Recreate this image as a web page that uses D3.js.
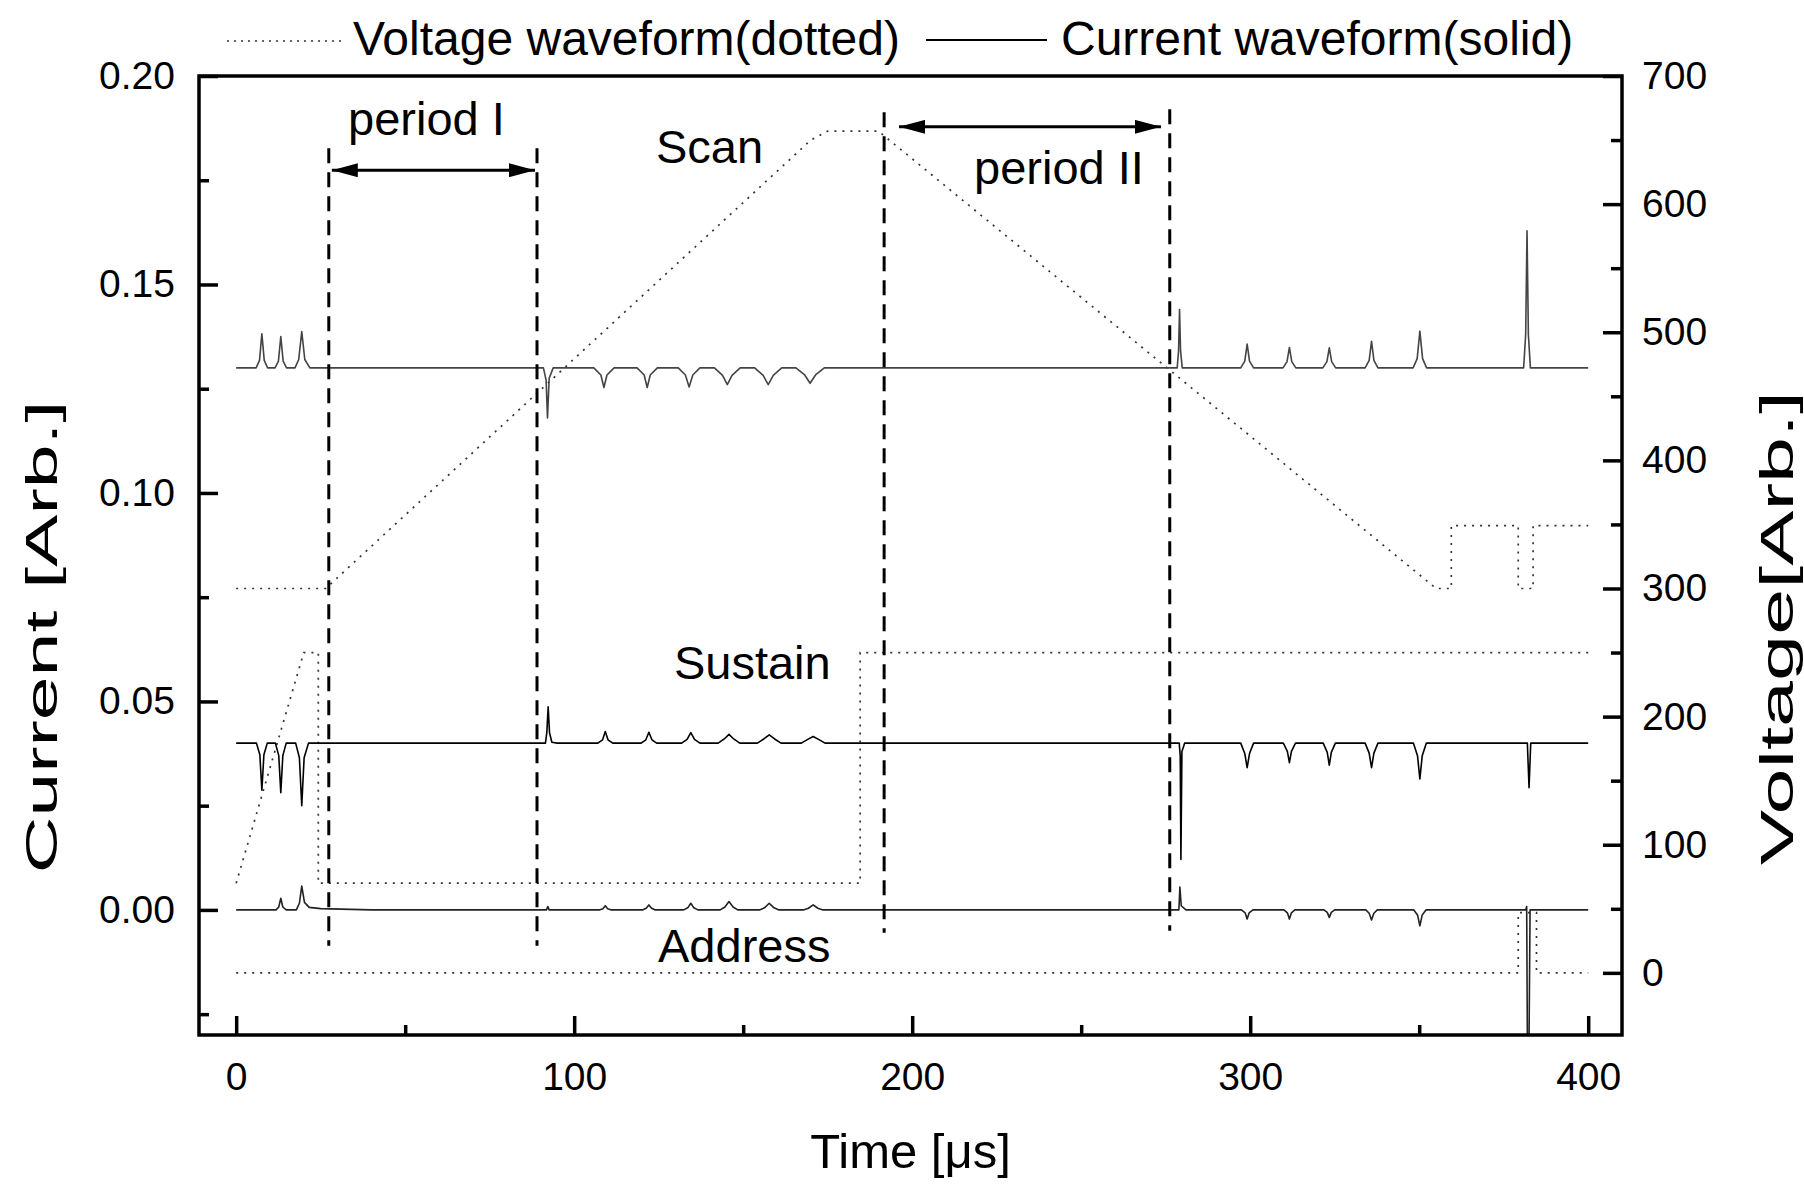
<!DOCTYPE html>
<html>
<head>
<meta charset="utf-8">
<script src="https://cdn.jsdelivr.net/npm/d3@7"></script>
<style>
  body { margin: 0; background: #fff; }
  svg text { font-family: "Liberation Sans", Arial, Helvetica, sans-serif; fill: #000; }
</style>
</head>
<body>
<div id="chart"></div>
<script>
// Current traces [time (us), current (arb.)]
var scanCurrent = [
  [0, 0.1300], [5.9, 0.1300], [6.9, 0.1318], [7.6, 0.1382], [8.3, 0.1318], [9.3, 0.1300],
  [11.5, 0.1300], [12.5, 0.1316], [13.2, 0.1375], [13.9, 0.1316], [14.9, 0.1300],
  [17.4, 0.1300], [18.5, 0.1320], [19.4, 0.1387], [20.3, 0.1320], [21.8, 0.1300],
  [90.9, 0.1300], [91.7, 0.1270], [92.1, 0.1180], [92.6, 0.1275], [93.8, 0.1300],
  [105.8, 0.1300], [107.9, 0.1283], [108.8, 0.1253], [109.7, 0.1283], [111.8, 0.1300],
  [118.6, 0.1300], [120.7, 0.1283], [121.6, 0.1253], [122.5, 0.1283], [124.6, 0.1300],
  [130.8, 0.1300], [132.9, 0.1283], [134.0, 0.1254], [135.1, 0.1283], [137.2, 0.1300],
  [141.5, 0.1300], [143.9, 0.1282], [145.3, 0.1260], [146.7, 0.1282], [149.1, 0.1300],
  [153.4, 0.1300], [155.9, 0.1282], [157.4, 0.1260], [158.9, 0.1282], [161.4, 0.1300],
  [165.6, 0.1300], [168.2, 0.1283], [169.8, 0.1263], [171.4, 0.1283], [174.0, 0.1300],
  [278.4, 0.1300], [278.8, 0.1340], [279.1, 0.1440], [279.4, 0.1340], [279.9, 0.1300],
  [297.2, 0.1300], [298.4, 0.1316], [299.1, 0.1357], [299.8, 0.1316], [301.0, 0.1300],
  [309.7, 0.1300], [310.9, 0.1315], [311.6, 0.1349], [312.3, 0.1315], [313.5, 0.1300],
  [321.5, 0.1300], [322.7, 0.1315], [323.4, 0.1348], [324.1, 0.1315], [325.3, 0.1300],
  [334.0, 0.1300], [335.2, 0.1318], [335.9, 0.1364], [336.6, 0.1318], [337.8, 0.1300],
  [348.2, 0.1300], [349.4, 0.1322], [350.2, 0.1388], [351.0, 0.1322], [352.2, 0.1300],
  [380.9, 0.1300], [381.5, 0.1380], [381.9, 0.1629], [382.3, 0.1380], [382.9, 0.1300],
  [400, 0.1300]
];

var sustainCurrent = [
  [0, 0.0400], [6.0, 0.0400], [7.0, 0.0372], [7.6, 0.0287], [8.2, 0.0372], [9.2, 0.0400],
  [11.6, 0.0400], [12.6, 0.0370], [13.2, 0.0281], [13.8, 0.0370], [14.8, 0.0400],
  [17.6, 0.0400], [18.7, 0.0365], [19.4, 0.0250], [20.1, 0.0365], [21.4, 0.0400],
  [91.5, 0.0400], [91.9, 0.0425], [92.3, 0.0487], [92.7, 0.0425], [93.4, 0.0402], [95.0, 0.0400],
  [107.0, 0.0400], [108.4, 0.0408], [109.2, 0.0428], [110.0, 0.0408], [111.4, 0.0400],
  [119.8, 0.0400], [121.2, 0.0408], [122.1, 0.0426], [123.0, 0.0408], [124.4, 0.0400],
  [131.8, 0.0400], [133.4, 0.0409], [134.5, 0.0425], [135.6, 0.0409], [137.2, 0.0400],
  [142.6, 0.0400], [144.4, 0.0410], [145.8, 0.0421], [147.2, 0.0410], [149.0, 0.0400],
  [154.2, 0.0400], [156.1, 0.0410], [157.7, 0.0420], [159.3, 0.0410], [161.2, 0.0400],
  [167.2, 0.0400], [169.1, 0.0409], [170.7, 0.0416], [172.3, 0.0409], [174.2, 0.0400],
  [279.0, 0.0400], [279.3, 0.0370], [279.5, 0.0121], [279.8, 0.0380], [280.6, 0.0400],
  [297.2, 0.0400], [298.4, 0.0375], [299.1, 0.0341], [299.8, 0.0375], [301.0, 0.0400],
  [309.8, 0.0400], [311.0, 0.0380], [311.6, 0.0353], [312.2, 0.0380], [313.4, 0.0400],
  [321.6, 0.0400], [322.8, 0.0378], [323.4, 0.0347], [324.0, 0.0378], [325.2, 0.0400],
  [334.0, 0.0400], [335.2, 0.0376], [335.9, 0.0341], [336.6, 0.0376], [337.8, 0.0400],
  [348.3, 0.0400], [349.5, 0.0370], [350.2, 0.0314], [350.9, 0.0370], [352.1, 0.0400],
  [382.0, 0.0400], [382.5, 0.0293], [383.0, 0.0400],
  [400, 0.0400]
];

var addressCurrent = [
  [0, 0.0000], [11.8, 0.0000], [12.6, 0.0007], [13.2, 0.0028], [13.8, 0.0007], [14.8, 0.0000],
  [17.8, 0.0000], [18.7, 0.0016], [19.4, 0.0057], [20.2, 0.0018], [21.6, 0.0006], [25.0, 0.0003], [40.0, 0.0000],
  [91.8, 0.0000], [92.2, 0.0008], [92.6, 0.0000],
  [107.4, 0.0000], [108.5, 0.0003], [109.2, 0.0010], [109.9, 0.0003], [111.0, 0.0000],
  [120.2, 0.0000], [121.3, 0.0004], [122.1, 0.0012], [122.9, 0.0004], [124.0, 0.0000],
  [132.4, 0.0000], [133.6, 0.0005], [134.5, 0.0016], [135.4, 0.0005], [136.6, 0.0000],
  [143.2, 0.0000], [144.6, 0.0007], [145.8, 0.0020], [147.0, 0.0007], [148.4, 0.0000],
  [154.8, 0.0000], [156.3, 0.0005], [157.7, 0.0016], [159.1, 0.0005], [160.6, 0.0000],
  [167.8, 0.0000], [169.3, 0.0004], [170.7, 0.0012], [172.1, 0.0004], [173.6, 0.0000],
  [278.9, 0.0000], [279.2, 0.0055], [279.6, 0.0010], [281.0, 0.0000],
  [297.4, 0.0000], [298.5, -0.0007], [299.1, -0.0022], [299.7, -0.0007], [300.8, 0.0000],
  [310.0, 0.0000], [311.0, -0.0007], [311.6, -0.0022], [312.2, -0.0007], [313.2, 0.0000],
  [321.8, 0.0000], [322.8, -0.0006], [323.4, -0.0018], [324.0, -0.0006], [325.0, 0.0000],
  [334.2, 0.0000], [335.2, -0.0008], [335.9, -0.0024], [336.6, -0.0008], [337.6, 0.0000],
  [348.4, 0.0000], [349.5, -0.0012], [350.2, -0.0038], [350.9, -0.0012], [352.0, 0.0000],
  [381.5, 0.0000], [381.8, 0.0008], [382.0, -0.0310], [382.5, -0.0310], [382.8, 0.0000],
  [400, 0.0000]
];

// Voltage traces [time (us), voltage (arb.)]
var scanVoltage = [
  [0, 300], [26.5, 300], [170, 650], [175, 657], [190, 657], [355, 300],
  [359.5, 300], [359.5, 349], [379.3, 349], [379.3, 300], [383.7, 300], [383.7, 349], [400, 349]
];
var sustainVoltage = [
  [0, 70], [20, 250], [24.3, 250], [24.3, 70], [184.6, 70], [184.6, 250], [400, 250]
];
var addressVoltage = [
  [0, 0], [379.3, 0], [379.3, 47], [384.7, 47], [384.7, 0], [400, 0]
];

// Ticks
var timeTicks = [0, 100, 200, 300, 400];
var timeMinor = [50, 150, 250, 350];
var currentTicks = [0, 0.05, 0.10, 0.15, 0.20];
var currentMinor = [-0.025, 0.025, 0.075, 0.125, 0.175];
var voltageTicks = [0, 100, 200, 300, 400, 500, 600, 700];
var voltageMinor = [50, 150, 250, 350, 450, 550, 650];

// Annotations
var labels = [
  {text: "Scan", t: 124.2, i: 0.1791},
  {text: "Sustain", t: 129.5, i: 0.0554},
  {text: "Address", t: 124.8, i: -0.0125},
  {text: "period I", t: 33.1, i: 0.1858},
  {text: "period II", t: 218.3, i: 0.1741}
];
var periodLines = [
  {t: 27.4, top: 0.1827, bottom: -0.0086},
  {t: 89.0, top: 0.1827, bottom: -0.0086},
  {t: 191.7, top: 0.1913, bottom: -0.0055},
  {t: 276.2, top: 0.1920, bottom: -0.0050}
];
var periodArrows = [
  {from: 28.3, to: 88.4, i: 0.1774},
  {from: 196.1, to: 273.6, i: 0.1878}
];

// Set up dimensions
var width = 1804, height = 1189;
var margin = {top: 76, right: 182, bottom: 154, left: 199};
var innerW = width - margin.left - margin.right;
var innerH = height - margin.top - margin.bottom;

var svg = d3.select("#chart")
  .append("svg")
  .attr("width", width)
  .attr("height", height);

var defs = svg.append("defs");
defs.append("clipPath").attr("id", "plotClip")
  .append("rect").attr("width", innerW).attr("height", innerH);

defs.append("marker")
  .attr("id", "head")
  .attr("markerUnits", "userSpaceOnUse")
  .attr("viewBox", "0 0 26 14")
  .attr("refX", 26).attr("refY", 7)
  .attr("markerWidth", 26).attr("markerHeight", 14)
  .attr("orient", "auto-start-reverse")
  .append("path").attr("d", "M0,0 L26,7 L0,14 Z").attr("fill", "#000");

var g = svg.append("g")
  .attr("transform", "translate(" + margin.left + "," + margin.top + ")");

// Scales
var x = d3.scaleLinear().domain([-11, 410]).range([0, innerW]);
var yI = d3.scaleLinear().domain([-0.03, 0.20]).range([innerH, 0]);
var yV = d3.scaleLinear().domain([-48.5, 700]).range([innerH, 0]);

var lineI = d3.line().x(d => x(d[0])).y(d => yI(d[1]));
var lineV = d3.line().x(d => x(d[0])).y(d => yV(d[1]));

var plot = g.append("g").attr("clip-path", "url(#plotClip)");

// Voltage waveforms (dotted)
[scanVoltage, sustainVoltage, addressVoltage].forEach(function(s) {
  plot.append("path")
    .datum(s)
    .attr("fill", "none")
    .attr("stroke", "#333")
    .attr("stroke-width", 1.7)
    .attr("stroke-dasharray", "2,6")
    .attr("d", lineV);
});

// Current waveforms (solid)
[[scanCurrent, "#444"], [sustainCurrent, "#000"], [addressCurrent, "#222"]].forEach(function(s) {
  plot.append("path")
    .datum(s[0])
    .attr("fill", "none")
    .attr("stroke", s[1])
    .attr("stroke-width", 1.6)
    .attr("stroke-linejoin", "round")
    .attr("d", lineI);
});

// Period markers
g.selectAll(".period-line")
  .data(periodLines)
  .enter().append("line")
  .attr("class", "period-line")
  .attr("x1", d => x(d.t)).attr("x2", d => x(d.t))
  .attr("y1", d => yI(d.top)).attr("y2", d => yI(d.bottom))
  .attr("stroke", "#000")
  .attr("stroke-width", 3)
  .attr("stroke-dasharray", "15,9");

g.selectAll(".period-arrow")
  .data(periodArrows)
  .enter().append("line")
  .attr("class", "period-arrow")
  .attr("x1", d => x(d.from)).attr("x2", d => x(d.to))
  .attr("y1", d => yI(d.i)).attr("y2", d => yI(d.i))
  .attr("stroke", "#000")
  .attr("stroke-width", 3)
  .attr("marker-start", "url(#head)")
  .attr("marker-end", "url(#head)");

g.selectAll(".label")
  .data(labels)
  .enter().append("text")
  .attr("class", "label")
  .attr("x", d => x(d.t))
  .attr("y", d => yI(d.i))
  .attr("font-size", 47)
  .text(d => d.text);

// Axes (ticks pointing inward)
function styleAxis(sel) {
  sel.select(".domain").remove();
  sel.selectAll(".tick line").attr("stroke", "#000").attr("stroke-width", 3.5);
  sel.selectAll(".tick text").attr("font-size", 39).attr("fill", "#000")
    .style("font-family", '"Liberation Sans", Arial, sans-serif');
}

g.append("g").attr("transform", "translate(0," + innerH + ")")
  .call(d3.axisBottom(x).tickValues(timeTicks).tickSize(-19).tickPadding(27).tickFormat(d3.format("d")))
  .call(styleAxis);
g.append("g").attr("transform", "translate(0," + innerH + ")")
  .call(d3.axisBottom(x).tickValues(timeMinor).tickSize(-10).tickFormat(""))
  .call(styleAxis);

g.append("g")
  .call(d3.axisLeft(yI).tickValues(currentTicks).tickSize(-19).tickPadding(24).tickFormat(d3.format(".2f")))
  .call(styleAxis);
g.append("g")
  .call(d3.axisLeft(yI).tickValues(currentMinor).tickSize(-10).tickFormat(""))
  .call(styleAxis);

g.append("g").attr("transform", "translate(" + innerW + ",0)")
  .call(d3.axisRight(yV).tickValues(voltageTicks).tickSize(-19).tickPadding(20).tickFormat(d3.format("d")))
  .call(styleAxis);
g.append("g").attr("transform", "translate(" + innerW + ",0)")
  .call(d3.axisRight(yV).tickValues(voltageMinor).tickSize(-11).tickFormat(""))
  .call(styleAxis);

// Frame
g.append("rect")
  .attr("width", innerW).attr("height", innerH)
  .attr("fill", "none")
  .attr("stroke", "#000")
  .attr("stroke-width", 3.5);

// Axis titles (the vertical ones are stretched along their length in the original)
svg.append("text")
  .attr("x", margin.left + innerW / 2)
  .attr("y", 1168)
  .attr("text-anchor", "middle")
  .attr("font-size", 49)
  .text("Time [\u03bcs]");

svg.append("text")
  .attr("transform", "translate(57,637) rotate(-90) scale(1.75,1)")
  .attr("text-anchor", "middle")
  .attr("font-size", 45)
  .text("Current [Arb.]");

svg.append("text")
  .attr("transform", "translate(1793,628) rotate(-90) scale(1.8,1)")
  .attr("text-anchor", "middle")
  .attr("font-size", 46)
  .text("Voltage[Arb.]");

// Legend
var legend = svg.append("g");
legend.append("line")
  .attr("x1", 227).attr("x2", 344).attr("y1", 41).attr("y2", 41)
  .attr("stroke", "#333").attr("stroke-width", 1.7).attr("stroke-dasharray", "2,5");
legend.append("text").attr("x", 353).attr("y", 55).attr("font-size", 48)
  .text("Voltage waveform(dotted)");
legend.append("line")
  .attr("x1", 926).attr("x2", 1047).attr("y1", 40).attr("y2", 40)
  .attr("stroke", "#000").attr("stroke-width", 1.8);
legend.append("text").attr("x", 1061).attr("y", 55).attr("font-size", 48)
  .text("Current waveform(solid)");
</script>
</body>
</html>
